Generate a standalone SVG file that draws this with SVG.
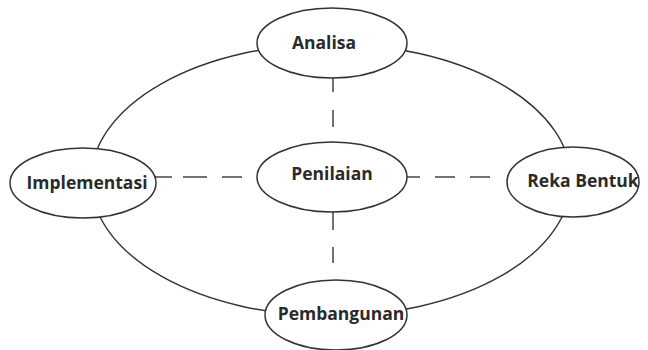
<svg xmlns="http://www.w3.org/2000/svg" width="648" height="350" viewBox="0 0 648 350">
<style>
.n{fill:#fff;stroke:#333;stroke-width:1.5}
.t{font-family:"Open Sans",Lato,sans-serif;font-weight:bold;font-size:17.5px;fill:#2a2a2a;text-anchor:middle;dominant-baseline:central}
.c{fill:none;stroke:#333;stroke-width:1.4}
.d{stroke:#444;stroke-width:1.5;fill:none}
</style>
<rect width="648" height="350" fill="#fff"/>
<g id="connectors">
<ellipse class="c" cx="331" cy="180" rx="240" ry="136"/>
<line class="d" x1="333" y1="78" x2="333" y2="143" stroke-dasharray="14,18,17,100"/>
<line class="d" x1="333" y1="211" x2="333" y2="280" stroke-dasharray="19,17,16,100"/>
<line class="d" x1="155" y1="177" x2="258" y2="177" stroke-dasharray="17,11,24,15,20,100"/>
<line class="d" x1="407" y1="177" x2="507" y2="177" stroke-dasharray="13,15,20,15,20,100"/>
</g>
<g id="analisa"><ellipse class="n" cx="332" cy="43" rx="75" ry="35"/><text class="t" x="324" y="42">Analisa</text></g>
<g id="implementasi"><ellipse class="n" cx="83" cy="183" rx="73" ry="35"/><text class="t" x="87" y="182">Implementasi</text></g>
<g id="penilaian"><ellipse class="n" cx="332" cy="177" rx="75" ry="35"/><text class="t" x="332" y="173">Penilaian</text></g>
<g id="rekabentuk"><ellipse class="n" cx="573" cy="182" rx="66" ry="35"/><text class="t" x="583" y="180">Reka Bentuk</text></g>
<g id="pembangunan"><ellipse class="n" cx="336" cy="315" rx="71" ry="35"/><text class="t" x="341" y="313">Pembangunan</text></g>
</svg>
